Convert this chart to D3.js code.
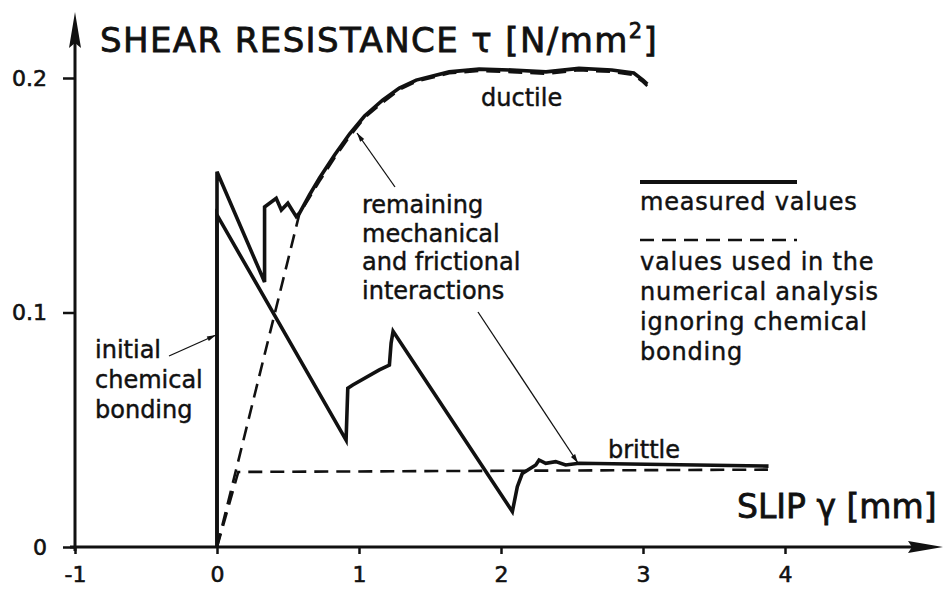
<!DOCTYPE html>
<html>
<head>
<meta charset="utf-8">
<script src="https://cdn.jsdelivr.net/npm/d3@7"></script>
<style>
  body { margin: 0; background: #fff; }
  text { font-family: "DejaVu Sans", sans-serif; fill: #111; stroke: #111; stroke-width: 0.45px; }
</style>
</head>
<body>
<svg id="chart"></svg>
<script>
// tick values
const slipTicks = [-1, 0, 1, 2, 3, 4];
const tauTicks = [0, 0.1, 0.2];

// measured values [slip, tau]
const ductileMeasured = [
  [0, 0], [0, 0.16], [0.335, 0.113], [0.335, 0.145], [0.417, 0.1487], [0.453, 0.1437],
  [0.499, 0.1466], [0.558, 0.1409], [0.581, 0.1424], [0.651, 0.1501], [0.722, 0.1574],
  [0.828, 0.1672], [0.933, 0.1761], [1.039, 0.1838], [1.166, 0.1906], [1.284, 0.1957],
  [1.403, 0.1991], [1.635, 0.2026], [1.846, 0.2038], [2.078, 0.2034], [2.317, 0.2026],
  [2.549, 0.2041], [2.78, 0.2034], [2.935, 0.2021], [3.0, 0.1991], [3.03, 0.1974]
];
const brittleMeasured = [
  [0, 0], [0, 0.1416], [0.909, 0.0456], [0.921, 0.0677], [0.956, 0.0691], [1.143, 0.0755],
  [1.214, 0.0776], [1.226, 0.0869], [1.24, 0.092], [2.08, 0.0151], [2.115, 0.0257],
  [2.15, 0.0314], [2.245, 0.035], [2.268, 0.0371], [2.315, 0.0357], [2.385, 0.0364],
  [2.455, 0.035], [2.55, 0.0357], [3.884, 0.0345]
];

// values used in the numerical analysis
const ductileModel = [
  [0, 0], [0.58, 0.142], [0.651, 0.149], [0.722, 0.156], [0.828, 0.166], [0.933, 0.175],
  [1.039, 0.183], [1.166, 0.1895], [1.284, 0.195], [1.403, 0.1985], [1.635, 0.202],
  [1.846, 0.203], [2.078, 0.2025], [2.317, 0.2018], [2.549, 0.2033], [2.78, 0.2026],
  [2.935, 0.2013], [3.0, 0.1983], [3.03, 0.1966]
];
const brittleModel = [[0, 0], [0.15, 0.032], [3.88, 0.033]];

const width = 948, height = 590;

const svg = d3.select('#chart')
  .attr('width', width)
  .attr('height', height);

const x = d3.scaleLinear().domain([-1, 4]).range([75, 785]);
const y = d3.scaleLinear().domain([0, 0.2]).range([547, 78]);

// axes
const xAxis = svg.append('g')
  .attr('transform', `translate(0,${y(0)})`)
  .call(d3.axisBottom(x).tickValues(slipTicks).tickSize(7).tickPadding(12)
    .tickFormat(d => d < 0 ? '-' + Math.abs(d) : d));
const yAxis = svg.append('g')
  .attr('transform', `translate(${x(-1)},0)`)
  .call(d3.axisLeft(y).tickValues(tauTicks).tickSize(12).tickPadding(16)
    .tickFormat(d => d === 0 ? '0' : d3.format('.1f')(d)));

[xAxis, yAxis].forEach(g => {
  g.select('.domain').remove();
  g.selectAll('.tick line').attr('stroke', '#111').attr('stroke-width', 2.5);
  g.selectAll('.tick text').style('font-size', '22px').style('stroke-width', '0.6px').attr('fill', '#111');
});

// axis lines with arrows
svg.append('line')
  .attr('x1', 70).attr('x2', 915)
  .attr('y1', y(0)).attr('y2', y(0))
  .attr('stroke', '#111').attr('stroke-width', 3);
svg.append('path')
  .attr('d', `M943,${y(0)} L908,${y(0) - 6} L912,${y(0)} L908,${y(0) + 6} Z`)
  .attr('fill', '#111');
svg.append('line')
  .attr('x1', x(-1)).attr('x2', x(-1))
  .attr('y1', y(0) + 4).attr('y2', 40)
  .attr('stroke', '#111').attr('stroke-width', 3);
svg.append('path')
  .attr('d', `M${x(-1)},12 L${x(-1) - 6},48 L${x(-1)},43 L${x(-1) + 6},48 Z`)
  .attr('fill', '#111');

const line = d3.line().x(d => x(d[0])).y(d => y(d[1]));

// model (dashed)
[ductileModel, brittleModel].forEach(s => {
  svg.append('path')
    .attr('d', line(s))
    .attr('fill', 'none')
    .attr('stroke', '#111')
    .attr('stroke-width', 2.6)
    .attr('stroke-dasharray', '14 8');
});

// measured (solid)
[ductileMeasured, brittleMeasured].forEach(s => {
  svg.append('path')
    .attr('d', line(s))
    .attr('fill', 'none')
    .attr('stroke', '#111')
    .attr('stroke-width', 3.6)
    .attr('stroke-linejoin', 'miter');
});

// title and axis name
const title = svg.append('text')
  .attr('x', 100).attr('y', 52)
  .style('font-size', '34px')
  .style('letter-spacing', '1.4px')
  .style('stroke-width', '0.8px');
title.append('tspan').text('SHEAR RESISTANCE τ [N/mm');
title.append('tspan').attr('dy', -14).style('font-size', '21px').text('2');
title.append('tspan').attr('dy', 14).text(']');

const slip = svg.append('text')
  .attr('x', 737).attr('y', 518)
  .style('font-size', '33px')
  .style('stroke-width', '0.8px');
slip.append('tspan').text('SLIP γ [mm]');

// annotations
function block(lines, x0, y0, step, spacing) {
  const t = svg.append('text')
    .style('font-size', '24px')
    .style('letter-spacing', (spacing || 0) + 'px');
  lines.forEach((l, i) => {
    t.append('tspan').attr('x', x0).attr('y', y0 + i * step).text(l);
  });
}
block(['ductile'], 481, 106, 0);
block(['brittle'], 608, 458, 0);
block(['remaining', 'mechanical', 'and frictional', 'interactions'], 362, 213, 28.5);
block(['initial', 'chemical', 'bonding'], 95, 358, 30);
block(['measured values'], 640, 210, 0, 0.8);
block(['values used in the', 'numerical analysis', 'ignoring chemical', 'bonding'], 640, 270, 30, 0.8);

// legend samples
svg.append('line')
  .attr('x1', 640).attr('x2', 797).attr('y1', 182).attr('y2', 182)
  .attr('stroke', '#111').attr('stroke-width', 4);
svg.append('line')
  .attr('x1', 640).attr('x2', 797).attr('y1', 240).attr('y2', 240)
  .attr('stroke', '#111').attr('stroke-width', 2.6).attr('stroke-dasharray', '14 8');

// leader lines
function leader(x1, y1, x2, y2) {
  svg.append('line')
    .attr('x1', x1).attr('y1', y1).attr('x2', x2).attr('y2', y2)
    .attr('stroke', '#111').attr('stroke-width', 1.3);
  const a = Math.atan2(y2 - y1, x2 - x1);
  const l = 9, w = 2.5;
  const p = [
    [x2, y2],
    [x2 - l * Math.cos(a) + w * Math.sin(a), y2 - l * Math.sin(a) - w * Math.cos(a)],
    [x2 - l * Math.cos(a) - w * Math.sin(a), y2 - l * Math.sin(a) + w * Math.cos(a)]
  ];
  svg.append('path').attr('d', 'M' + p.join('L') + 'Z').attr('fill', '#111');
}
leader(395, 187, 357, 133);
leader(478, 312, 578, 463);
leader(169, 356, 216, 335);
</script>
</body>
</html>
